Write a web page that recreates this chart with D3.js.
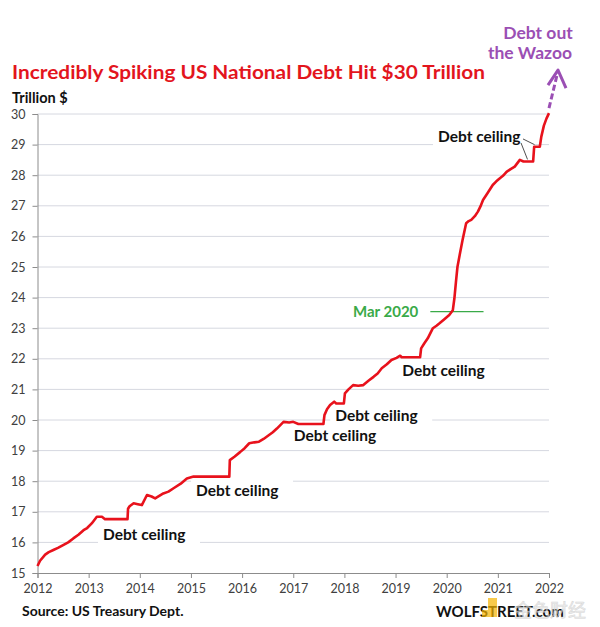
<!DOCTYPE html>
<html>
<head>
<meta charset="utf-8">
<script src="https://cdn.jsdelivr.net/npm/d3@7"></script>
<style>
  body { margin: 0; background: #fff; }
  text { font-family: Lato, "Open Sans", sans-serif; }
</style>
</head>
<body>
<div id="chart"></div>
<script>
// decimal years and total public debt, trillion $
var years = [
  2012.00, 2012.05, 2012.15, 2012.22, 2012.31, 2012.40, 2012.51, 2012.60, 2012.70, 2012.80,
  2012.90, 2012.97, 2013.06, 2013.16, 2013.26, 2013.32, 2013.76, 2013.77, 2013.80, 2013.88,
  2013.96, 2014.04, 2014.14, 2014.23, 2014.30, 2014.38, 2014.46, 2014.56, 2014.66, 2014.80,
  2014.92, 2015.05, 2015.75, 2015.76, 2015.85, 2015.96, 2016.05, 2016.14, 2016.24, 2016.33,
  2016.42, 2016.52, 2016.60, 2016.68, 2016.81, 2016.92, 2017.00, 2017.10, 2017.59, 2017.61,
  2017.66, 2017.72, 2017.80, 2017.84, 2017.99, 2018.01, 2018.08, 2018.17, 2018.27, 2018.37,
  2018.47, 2018.57, 2018.65, 2018.73, 2018.83, 2018.92, 2019.02, 2019.09, 2019.12, 2019.48,
  2019.50, 2019.56, 2019.63, 2019.73, 2019.80, 2019.86, 2019.96, 2020.05, 2020.12, 2020.15,
  2020.18, 2020.21, 2020.26, 2020.31, 2020.38, 2020.43, 2020.48, 2020.55, 2020.61, 2020.66,
  2020.71, 2020.80, 2020.90, 2020.97, 2021.04, 2021.10, 2021.17, 2021.25, 2021.33, 2021.43,
  2021.50, 2021.69, 2021.71, 2021.82, 2021.85, 2021.90, 2021.95, 2022.00
];
var debt = [
  15.23, 15.40, 15.60, 15.68, 15.75, 15.82, 15.92, 16.00, 16.13, 16.25,
  16.40, 16.47, 16.62, 16.84, 16.84, 16.76, 16.76, 17.10, 17.18, 17.28,
  17.25, 17.22, 17.55, 17.50, 17.44, 17.52, 17.60, 17.66, 17.77, 17.92,
  18.09, 18.15, 18.15, 18.69, 18.80, 18.95, 19.08, 19.24, 19.27, 19.29,
  19.38, 19.50, 19.60, 19.72, 19.94, 19.92, 19.94, 19.87, 19.87, 20.16,
  20.35, 20.49, 20.60, 20.54, 20.54, 20.87, 21.00, 21.14, 21.12, 21.14,
  21.28, 21.41, 21.52, 21.69, 21.82, 21.96, 22.03, 22.10, 22.05, 22.05,
  22.34, 22.50, 22.67, 23.00, 23.08, 23.16, 23.30, 23.43, 23.59, 23.97,
  24.50, 25.00, 25.45, 25.88, 26.43, 26.50, 26.54, 26.66, 26.81, 26.98,
  27.19, 27.42, 27.68, 27.80, 27.90, 27.98, 28.11, 28.20, 28.28, 28.50,
  28.45, 28.45, 28.93, 28.93, 29.26, 29.62, 29.85, 30.03
];

var yTicks = d3.range(15, 31);
var xTicks = d3.range(2012, 2023);

// debt ceiling labels: [year, value] of the label's left edge / middle
var ceilingLabels = [
  [2013.28, 16.27], [2015.10, 17.68], [2017.01, 19.48],
  [2017.82, 20.13], [2019.13, 21.63], [2019.83, 29.25]
];
// leader lines from the last label to the two flat stretches
var ceilingLeaders = [[2021.72, 28.93], [2021.58, 28.45]];
var mar2020 = { value: 23.54, from: 2019.68, to: 2020.72 };

var w = 600, h = 627;

var x = d3.scaleLinear().domain([2012, 2022]).range([37.5, 549]);
var y = d3.scaleLinear().domain([15, 30]).range([573, 114]);

var svg = d3.select("#chart").append("svg")
  .attr("width", w)
  .attr("height", h);

// gridlines
svg.append("g")
  .selectAll("line")
  .data(yTicks.slice(1))
  .enter().append("line")
  .attr("x1", x(2012)).attr("x2", x(2022))
  .attr("y1", d => y(d)).attr("y2", d => y(d))
  .attr("stroke", "#d6d8e0")
  .attr("stroke-width", 1);

// axes
var yAxis = d3.axisLeft(y).tickValues(yTicks).tickSize(5).tickPadding(5).tickFormat(d3.format("d"));
var xAxis = d3.axisBottom(x).tickValues(xTicks).tickSize(5).tickPadding(6).tickFormat(d3.format("d"));

var gy = svg.append("g").attr("transform", `translate(${x(2012)},0)`).call(yAxis);
var gx = svg.append("g").attr("transform", `translate(0,${y(15)})`).call(xAxis);

[gx, gy].forEach(g => {
  g.select(".domain").attr("stroke", "#8c8c8c");
  g.selectAll(".tick line").attr("stroke", "#8c8c8c");
  g.selectAll(".tick text")
    .attr("fill", "#404040")
    .style("font-size", "12.5px")
    .style("font-family", "Lato, sans-serif");
});
gy.selectAll(".tick text").attr("dx", "-2");

// debt ceiling labels with white boxes over the gridlines
var labels = svg.append("g").selectAll("g")
  .data(ceilingLabels)
  .enter().append("g")
  .attr("transform", d => `translate(${x(d[0])},${y(d[1])})`);

labels.append("rect")
  .attr("x", -5).attr("y", -11)
  .attr("width", 102).attr("height", 22)
  .attr("fill", "#fff");

labels.append("text")
  .attr("dy", "0.35em")
  .text("Debt ceiling")
  .style("font-size", "15.5px")
  .style("font-weight", "bold")
  .attr("fill", "#111");

var last = ceilingLabels[ceilingLabels.length - 1];
svg.append("g").selectAll("line")
  .data(ceilingLeaders)
  .enter().append("line")
  .attr("x1", (d, i) => x(last[0]) + 85 - i * 2)
  .attr("y1", (d, i) => y(last[1]) + 2 + i * 4)
  .attr("x2", d => x(d[0]))
  .attr("y2", d => y(d[1]) - 2)
  .attr("stroke", "#222")
  .attr("stroke-width", 0.8);

// Mar 2020 marker
svg.append("line")
  .attr("x1", x(mar2020.from)).attr("x2", x(mar2020.to))
  .attr("y1", y(mar2020.value)).attr("y2", y(mar2020.value))
  .attr("stroke", "#3aaa48")
  .attr("stroke-width", 1.2);

svg.append("text")
  .attr("x", x(mar2020.from) - 12)
  .attr("y", y(mar2020.value))
  .attr("dy", "0.35em")
  .attr("text-anchor", "end")
  .attr("fill", "#3aaa48")
  .style("font-size", "15px")
  .style("font-weight", "bold")
  .text("Mar 2020");

// the debt line
var line = d3.line()
  .x((d, i) => x(years[i]))
  .y(d => y(d));

svg.append("path")
  .datum(debt)
  .attr("fill", "none")
  .attr("stroke", "#e8121c")
  .attr("stroke-width", 2.6)
  .attr("stroke-linejoin", "round")
  .attr("d", line);

// dashed purple arrow up and out
var ex = x(years[years.length - 1]), ey = y(debt[debt.length - 1]);
svg.append("line")
  .attr("x1", ex).attr("y1", ey - 5)
  .attr("x2", ex + 9).attr("y2", ey - 42)
  .attr("stroke", "#9b4fb4")
  .attr("stroke-width", 3)
  .attr("stroke-dasharray", "6,3");
svg.append("path")
  .attr("d", `M${ex - 1},${ey - 28} L${ex + 9},${ey - 43} L${ex + 17},${ey - 25}`)
  .attr("fill", "none")
  .attr("stroke", "#9b4fb4")
  .attr("stroke-width", 3)
  .attr("stroke-linejoin", "round");

svg.append("text")
  .attr("x", 538).attr("y", 39)
  .attr("text-anchor", "middle")
  .attr("fill", "#9b4fb4")
  .style("font-size", "17.5px")
  .style("font-weight", "bold")
  .text("Debt out");
svg.append("text")
  .attr("x", 530).attr("y", 59)
  .attr("text-anchor", "middle")
  .attr("fill", "#9b4fb4")
  .style("font-size", "17.5px")
  .style("font-weight", "bold")
  .text("the Wazoo");

// titles and footers
svg.append("text")
  .attr("x", 12).attr("y", 79)
  .attr("fill", "#e3151d")
  .style("font-size", "19px")
  .style("font-weight", "bold")
  .attr("textLength", 473)
  .attr("lengthAdjust", "spacingAndGlyphs")
  .text("Incredibly Spiking US National Debt Hit $30 Trillion");

svg.append("text")
  .attr("x", 12).attr("y", 103)
  .attr("fill", "#111")
  .style("font-size", "14.5px")
  .style("font-weight", "bold")
  .text("Trillion $");

svg.append("text")
  .attr("x", 22).attr("y", 616)
  .attr("fill", "#111")
  .style("font-size", "14px")
  .style("font-weight", "bold")
  .text("Source: US Treasury Dept.");

svg.append("text")
  .attr("x", 436).attr("y", 617)
  .attr("fill", "#111")
  .style("font-size", "15px")
  .style("font-weight", "bold")
  .text("WOLFSTREET.com");

// watermark, kept below the 2022 tick label
var wm = svg.append("g").attr("opacity", 0.7);
wm.append("path")
  .attr("d", "M488,598 h9 v19 h-15 v-7 h6 z")
  .attr("fill", "#f5b400");
wm.append("text")
  .attr("x", 514).attr("y", 617)
  .attr("fill", "#e4e4e4")
  .attr("stroke", "#c8c8c8")
  .attr("stroke-width", 0.5)
  .style("font-family", "'Noto Sans CJK SC', sans-serif")
  .style("font-size", "18px")
  .text("金色财经");
</script>
</body>
</html>
